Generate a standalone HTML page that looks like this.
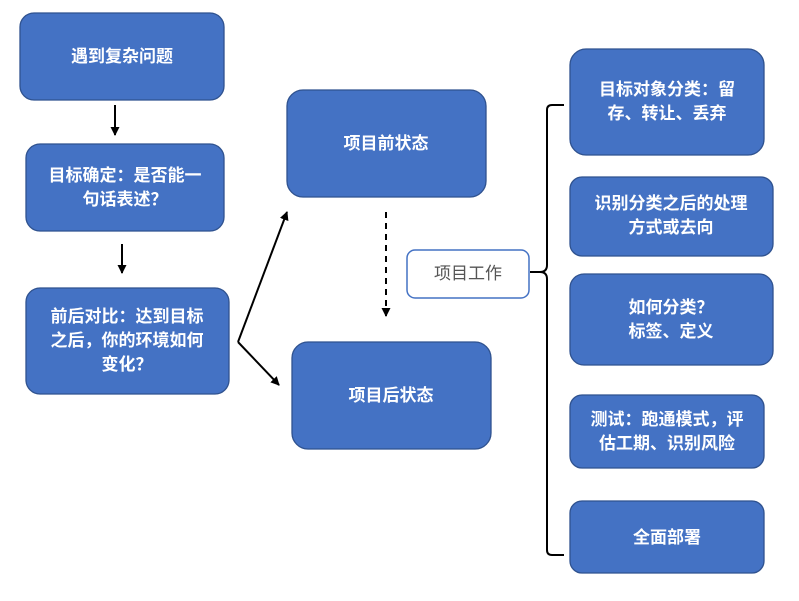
<!DOCTYPE html>
<html><head><meta charset="utf-8"><style>
body{margin:0;background:#fff;}
svg{display:block;font-family:"Liberation Sans","Noto Sans CJK SC",sans-serif;}
.b{fill:#4472C4;stroke:#2F528F;stroke-width:1.3;}
.t{fill:#fff;font-size:17px;font-weight:bold;text-anchor:middle;}
</style></head><body>
<svg width="799" height="601" viewBox="0 0 799 601">
<defs><marker id="a" markerWidth="9" markerHeight="9" refX="8" refY="4.5" orient="auto" markerUnits="userSpaceOnUse"><path d="M0,0 L9,4.5 L0,9 z" fill="#000"/></marker></defs>
<rect class="b" x="20" y="13" width="204" height="87" rx="14"/>
<text class="t" x="122" y="62">遇到复杂问题</text>
<rect class="b" x="26" y="144" width="198" height="87" rx="14"/>
<text class="t" x="125" y="181">目标确定：是否能一</text>
<text class="t" x="125" y="205">句话表述？</text>
<rect class="b" x="26" y="288" width="203" height="106" rx="14"/>
<text class="t" x="127" y="322">前后对比：达到目标</text>
<text class="t" x="127" y="346">之后，你的环境如何</text>
<text class="t" x="127" y="370">变化？</text>
<rect class="b" x="287" y="90" width="199" height="107" rx="16"/>
<text class="t" x="386" y="149">项目前状态</text>
<rect class="b" x="292" y="342" width="199" height="107" rx="16"/>
<text class="t" x="391" y="401">项目后状态</text>
<rect x="407" y="250" width="122" height="48" rx="8" fill="#fff" stroke="#4472C4" stroke-width="1.5"/>
<text x="468" y="279" font-size="17" fill="#555" text-anchor="middle">项目工作</text>
<rect class="b" x="570" y="49" width="194" height="106" rx="16"/>
<text class="t" x="667" y="95">目标对象分类：留</text>
<text class="t" x="667" y="119">存、转让、丢弃</text>
<rect class="b" x="570" y="177" width="203" height="79" rx="12"/>
<text class="t" x="671" y="209">识别分类之后的处理</text>
<text class="t" x="671" y="233">方式或去向</text>
<rect class="b" x="570" y="274" width="203" height="91" rx="14"/>
<text class="t" x="671" y="313">如何分类？</text>
<text class="t" x="671" y="337">标签、定义</text>
<rect class="b" x="570" y="395" width="194" height="73" rx="12"/>
<text class="t" x="667" y="425">测试：跑通模式，评</text>
<text class="t" x="667" y="449">估工期、识别风险</text>
<rect class="b" x="570" y="501" width="194" height="72" rx="12"/>
<text class="t" x="667" y="543">全面部署</text>
<g stroke="#000" stroke-width="2" fill="none">
<line x1="115" y1="105" x2="115" y2="135" marker-end="url(#a)"/>
<line x1="122" y1="244" x2="122" y2="273" marker-end="url(#a)"/>
<line x1="238" y1="342" x2="287" y2="212" marker-end="url(#a)"/>
<line x1="238" y1="342" x2="279" y2="385" marker-end="url(#a)"/>
<line x1="386" y1="212" x2="386" y2="316" stroke-dasharray="6,5" marker-end="url(#a)"/>
<path d="M564,105 H552 Q547,105 547,110 V265 Q547,272 540,272 H530 M540,272 Q547,272 547,279 V550 Q547,555 552,555 H564"/>
</g>
</svg>
</body></html>
